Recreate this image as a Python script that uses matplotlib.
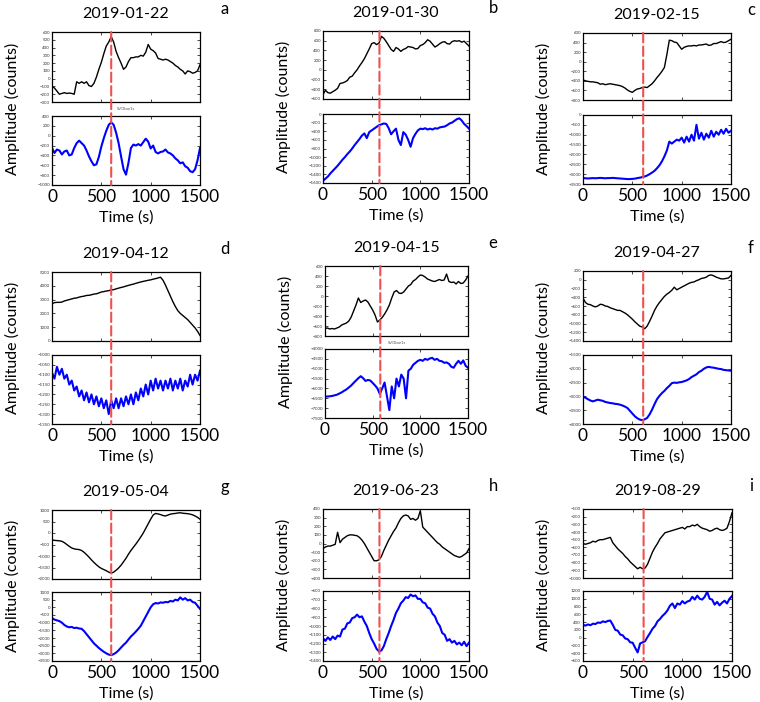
import matplotlib.pyplot as plt
import numpy as np
from matplotlib.patches import ConnectionPatch

plt.rcParams['font.family'] = ['Lato', 'DejaVu Sans']

# time axis (s), one sample every 25 s
t = np.arange(0, 1501, 25)

dates = ['2019-01-22', '2019-01-30', '2019-02-15',
         '2019-04-12', '2019-04-15', '2019-04-27',
         '2019-05-04', '2019-06-23', '2019-08-29']
letters = ['a', 'b', 'c', 'd', 'e', 'f', 'g', 'h', 'i']
event_t = [600, 580, 610, 600, 580, 610, 600, 580, 610]

a_top = [-100, -120, -160, -200, -190, -180, -190, -185, -190, -200, -40, -60, -40, -60, -40, -90,
         -100, -60, 20, 120, 210, 320, 420, 470, 540, 470, 350, 270, 200, 120, 150, 220, 270, 270,
         280, 280, 300, 290, 340, 440, 380, 360, 330, 260, 250, 240, 250, 240, 220, 200, 170, 150,
         120, 100, 60, 100, 90, 70, 80, 100, 180]
a_bot = [-250, -350, -280, -300, -380, -320, -300, -400, -380, -250, -150, -100, -150, -200, -300,
         -420, -520, -600, -580, -430, -220, -50, 100, 220, 270, 220, 60, -150, -420, -680, -790,
         -550, -250, -180, -200, -170, -200, -130, -60, -120, -260, -200, -330, -360, -330, -320,
         -280, -340, -360, -400, -460, -500, -560, -540, -620, -650, -720, -740, -680, -500, -250]

b_top = [-510, -420, -470, -480, -450, -420, -380, -280, -270, -250, -220, -150, -130, -60, 0, 80,
         150, 230, 330, 430, 540, 560, 520, 550, 690, 650, 580, 500, 420, 380, 460, 430, 380, 420,
         440, 480, 470, 460, 430, 440, 500, 520, 560, 620, 590, 530, 470, 500, 540, 570, 580, 540,
         530, 580, 600, 590, 600, 570, 590, 540, 490]
b_bot = [-1550, -1500, -1450, -1380, -1320, -1260, -1200, -1130, -1060, -1000, -930, -870, -800,
         -720, -650, -580, -500, -450, -560, -420, -380, -340, -300, -260, -240, -220, -230, -330,
         -470, -400, -340, -600, -720, -420, -480, -600, -760, -560, -460, -380, -340, -350, -330,
         -360, -340, -360, -330, -340, -310, -300, -290, -260, -220, -200, -160, -120, -100, -150,
         -230, -280, -340]

c_top = [-380, -400, -410, -420, -420, -430, -440, -470, -460, -480, -470, -460, -470, -480, -490,
         -500, -520, -550, -590, -620, -640, -600, -570, -560, -540, -530, -540, -500, -460, -400,
         -330, -270, -200, -120, 150, 450, 440, 410, 400, 330, 260, 300, 320, 330, 330, 340, 330,
         350, 350, 360, 370, 340, 350, 380, 380, 400, 420, 400, 410, 440, 470]
c_bot = [-3200, -3210, -3220, -3210, -3200, -3210, -3200, -3190, -3200, -3210, -3200, -3200, -3190,
         -3200, -3210, -3220, -3230, -3240, -3250, -3250, -3240, -3230, -3200, -3180, -3150, -3120,
         -3070, -3000, -2920, -2830, -2700, -2550, -2350, -2100, -1800, -1350, -1450, -1350, -1250,
         -1300, -1150, -1400, -1100, -1350, -1000, -1300, -500, -1200, -900, -1250, -950, -1150,
         -800, -1100, -850, -1000, -750, -950, -700, -900, -800]

d_top = [2700, 2780, 2800, 2800, 2820, 2900, 2950, 3000, 3050, 3100, 3120, 3180, 3220, 3250, 3300,
         3310, 3350, 3400, 3420, 3480, 3550, 3580, 3620, 3650, 3700, 3720, 3780, 3830, 3880, 3920,
         3980, 4030, 4080, 4120, 4180, 4230, 4280, 4320, 4360, 4400, 4430, 4480, 4520, 4570, 4620,
         4400, 4050, 3650, 3250, 2850, 2500, 2200, 2000, 1850, 1700, 1550, 1350, 1150, 950, 700, 400]
d_bot = [-1090, -1120, -1060, -1100, -1070, -1120, -1100, -1150, -1130, -1180, -1160, -1210, -1180,
         -1230, -1190, -1240, -1200, -1250, -1210, -1260, -1220, -1270, -1230, -1300, -1230, -1270,
         -1220, -1270, -1220, -1260, -1210, -1250, -1200, -1250, -1190, -1230, -1170, -1210, -1150,
         -1200, -1130, -1180, -1120, -1170, -1130, -1180, -1130, -1170, -1120, -1180, -1130, -1170,
         -1120, -1180, -1130, -1160, -1100, -1150, -1100, -1130, -1080]

e_top = [-650, -640, -660, -650, -660, -640, -620, -580, -560, -540, -500, -420, -300, -180, -40,
         -130, -100, -80, -120, -200, -280, -380, -520, -480, -430, -360, -280, -180, -40, 80, 110,
         60, 50, 80, 140, 200, 230, 300, 330, 380, 420, 410, 380, 340, 320, 300, 290, 310, 330, 310,
         320, 440, 290, 270, 280, 240, 290, 250, 260, 320, 400]
e_bot = [-6420, -6410, -6400, -6380, -6350, -6320, -6260, -6200, -6120, -6050, -5950, -5850, -5720,
         -5600, -5480, -5380, -5480, -5620, -5570, -5600, -5720, -5850, -6000, -6280, -6000, -5700,
         -6400, -7100, -5900, -6500, -5500, -5900, -5300, -5500, -6500, -5100, -5000, -4800, -4700,
         -4600, -4550, -4600, -4500, -4550, -4480, -4450, -4550, -4500, -4600, -4620, -4700, -4680,
         -4750, -4900, -4950, -4750, -4600, -4750, -4580, -4850, -4950]

f_top = [-420, -520, -560, -570, -600, -620, -600, -560, -570, -600, -610, -640, -660, -680, -700,
         -700, -730, -760, -800, -850, -900, -960, -1010, -1060, -1080, -1120, -1060, -950, -830,
         -700, -600, -520, -450, -380, -330, -290, -240, -170, -230, -200, -170, -140, -110, -80,
         -60, -50, -20, 0, 30, 40, 60, 100, 110, 90, 60, 40, 20, 20, 30, 40, 100]
f_bot = [-3000, -3050, -3100, -3150, -3180, -3150, -3120, -3140, -3160, -3200, -3220, -3240, -3250,
         -3270, -3280, -3300, -3330, -3370, -3420, -3520, -3620, -3720, -3790, -3840, -3860, -3830,
         -3780, -3650, -3480, -3280, -3100, -2980, -2880, -2800, -2700, -2620, -2520, -2500, -2510,
         -2490, -2480, -2450, -2420, -2370, -2300, -2250, -2200, -2120, -2070, -2000, -1950, -1930,
         -1950, -1960, -1980, -2000, -2010, -2040, -2050, -2060, -2070]

g_top = [-300, -320, -330, -340, -360, -420, -500, -580, -650, -690, -710, -720, -760, -840, -940,
         -1050, -1170, -1280, -1380, -1470, -1540, -1590, -1640, -1700, -1750, -1700, -1620, -1520,
         -1400, -1250, -1100, -920, -760, -620, -480, -330, -170, 0, 200, 400, 600, 780, 850, 830,
         800, 760, 740, 780, 820, 840, 850, 870, 880, 860, 850, 840, 820, 790, 740, 680, 600]
g_bot = [-700, -800, -850, -900, -1000, -1150, -1250, -1300, -1280, -1350, -1330, -1380, -1400,
         -1550, -1750, -1950, -2150, -2350, -2500, -2650, -2780, -2900, -3000, -3080, -3120, -3050,
         -2950, -2800, -2620, -2450, -2300, -2100, -1900, -1750, -1580, -1400, -1200, -900, -600,
         -300, 0, 200, 280, 250, 320, 300, 350, 330, 420, 380, 500, 450, 650, 500, 600, 450, 500,
         350, 300, 100, -100]

h_top = [-60, -40, -30, -30, -20, -10, 130, 10, 50, 70, 90, 100, 100, 95, 90, 70, 40, 0, -50, -100,
         -150, -200, -200, -190, -150, -80, -20, 40, 90, 140, 180, 240, 290, 320, 330, 320, 280, 290,
         270, 290, 380, 190, 160, 130, 100, 70, 40, 10, -10, -40, -60, -80, -100, -120, -140, -150,
         -160, -150, -130, -110, -60]
h_bot = [-1140, -1170, -1130, -1160, -1120, -1150, -1110, -1120, -1040, -1030, -970, -960, -910,
         -900, -870, -900, -890, -950, -1000, -1080, -1150, -1200, -1260, -1290, -1280, -1230, -1150,
         -1080, -1000, -930, -850, -800, -740, -710, -670, -680, -640, -660, -650, -690, -690, -730,
         -740, -790, -800, -860, -890, -960, -1000, -1080, -1100, -1170, -1150, -1190, -1170, -1210,
         -1190, -1220, -1180, -1230, -1190]

i_top = [-550, -560, -550, -540, -520, -530, -510, -500, -500, -490, -480, -470, -540, -580, -620,
         -650, -680, -720, -750, -790, -820, -850, -880, -860, -880, -870, -820, -740, -660, -600,
         -550, -490, -450, -410, -400, -390, -380, -370, -360, -350, -340, -360, -330, -330, -310,
         -320, -300, -330, -350, -360, -370, -390, -380, -360, -350, -370, -380, -370, -350, -260,
         -150]
i_bot = [330, 310, 340, 320, 360, 350, 390, 380, 420, 400, 430, 440, 330, 200, 180, 80, 60, -20, -40,
         -120, -130, -260, -380, -150, -120, -90, 20, 120, 230, 300, 420, 480, 560, 620, 700, 820,
         880, 760, 880, 850, 940, 880, 930, 950, 1050, 980, 1080, 1000, 980, 1050, 1180, 1000, 980,
         850, 920, 830, 900, 950, 880, 1000, 1070]

top_series = [a_top, b_top, c_top, d_top, e_top, f_top, g_top, h_top, i_top]
bot_series = [a_bot, b_bot, c_bot, d_bot, e_bot, f_bot, g_bot, h_bot, i_bot]

# y ranges and tick steps (min, max, step)
top_y = [(-300, 600, 100), (-600, 800, 200), (-800, 600, 200),
         (0, 5000, 1000), (-800, 600, 200), (-1400, 200, 200),
         (-2000, 1000, 500), (-400, 400, 100), (-1000, -100, 100)]
bot_y = [(-1000, 400, 200), (-1600, 0, 200), (-3500, 0, 500),
         (-1350, -1000, 50), (-7500, -4000, 500), (-4000, -1500, 500),
         (-3500, 1000, 500), (-1400, -600, 100), (-600, 1200, 200)]

# pixel boxes: left, right, top-axes top, top-axes bottom, bottom-axes top, bottom-axes bottom
boxes = [(52, 200, 32, 102, 116, 185), (323, 469, 31, 99, 114, 183), (583, 731, 33, 100, 115, 184),
         (52, 200, 272, 341, 355, 424), (325, 468, 266, 336, 349, 418), (583, 731, 271, 341, 355, 424),
         (52, 200, 510, 579, 592, 661), (323, 469, 509, 578, 591, 661), (583, 732, 509, 578, 591, 661)]
letter_x = [225, 493, 751, 225, 493, 751, 225, 493, 751]

W, H = 760, 702
fig = plt.figure(figsize=(W / 100, H / 100), dpi=100)


def fx(px):
    return px / W


def fy(py):
    return 1 - py / H


red = '#f04f4f'

for k in range(9):
    l, r, t1, b1, t2, b2 = boxes[k]
    ax1 = fig.add_axes([fx(l), fy(b1), fx(r - l), (b1 - t1) / H])
    ax2 = fig.add_axes([fx(l), fy(b2), fx(r - l), (b2 - t2) / H])

    ax1.plot(t, top_series[k], color='black', lw=1.0)
    ax2.plot(t, bot_series[k], color='blue', lw=1.5)

    for ax, (lo, hi, step) in ((ax1, top_y[k]), (ax2, bot_y[k])):
        ax.set_xlim(0, 1500)
        ax.set_ylim(lo, hi)
        ax.set_yticks(np.arange(lo, hi + 1, step))
        ax.set_xticks([0, 500, 1000, 1500])
        ax.tick_params(direction='in', length=2, width=0.5, labelsize=3.2, pad=1.5,
                       top=True, right=True, labelcolor='#333333')
        for s in ax.spines.values():
            s.set_linewidth(0.9)
    ax1.tick_params(axis='x', labelbottom=False)
    ax2.tick_params(axis='x', labelsize=12.5, pad=3, labelcolor='black')

    # red dashed marker across both subplots
    con = ConnectionPatch(xyA=(event_t[k], top_y[k][1]), coordsA=ax1.transData,
                          xyB=(event_t[k], bot_y[k][0]), coordsB=ax2.transData,
                          color=red, lw=1.5, linestyle=(0, (4.5, 2)))
    fig.add_artist(con)

    cx = (l + r) / 2
    fig.text(fx(cx), fy(t1 - 18), dates[k], ha='center', va='center', fontsize=11.5)
    fig.text(fx(letter_x[k]), fy(t1 - 23), letters[k], ha='center', va='center', fontsize=12)
    fig.text(fx(cx), fy(b2 + 33), 'Time (s)', ha='center', va='center', fontsize=11.5)
    fig.text(fx(l - 40), fy((t1 + b2) / 2), 'Amplitude (counts)', ha='center', va='center',
             rotation=90, fontsize=11.5)

    if k in (0, 4):
        fig.text(fx(cx), fy((b1 + t2) / 2), 'SVObar1s', ha='center', va='center',
                 fontsize=3, color='#555555')

fig.savefig('out.png', dpi=100)
